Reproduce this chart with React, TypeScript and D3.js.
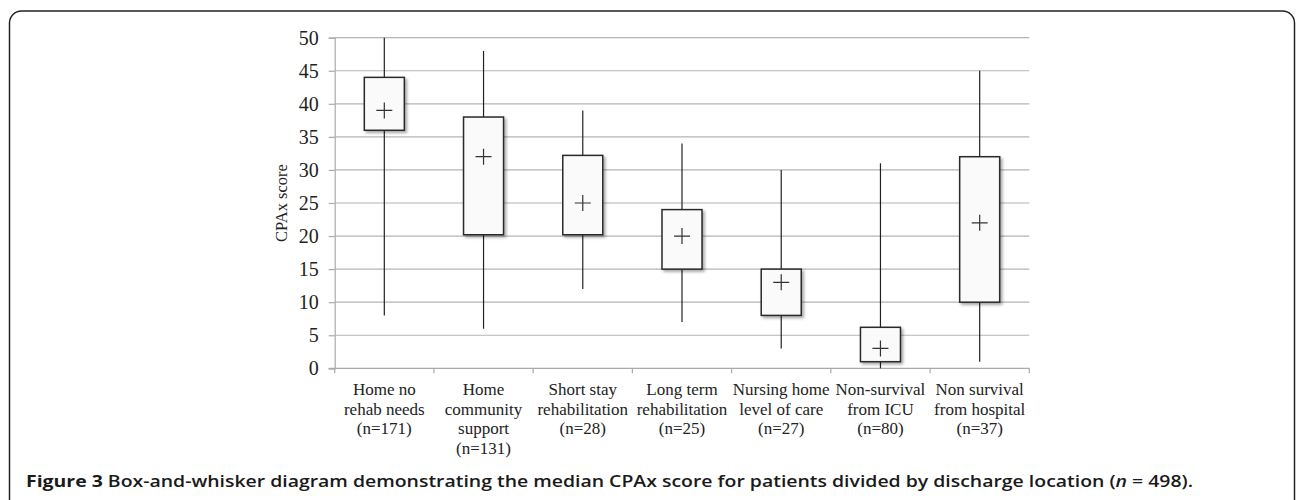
import * as d3 from "d3";
import { useEffect, useRef } from "react";

// discharge location groups, one label line per entry
const categories = [
  ["Home no", "rehab needs", "(n=171)"],
  ["Home", "community", "support", "(n=131)"],
  ["Short stay", "rehabilitation", "(n=28)"],
  ["Long term", "rehabilitation", "(n=25)"],
  ["Nursing home", "level of care", "(n=27)"],
  ["Non-survival", "from ICU", "(n=80)"],
  ["Non survival", "from hospital", "(n=37)"],
];

// CPAx values
const whiskerMin = [8, 6, 12, 7, 3, 0, 1];
const whiskerMax = [50, 48, 39, 34, 30, 31, 45];
const boxLow = [36, 20.2, 20.2, 15, 8, 1, 10];
const boxHigh = [44, 38, 32.2, 24, 15, 6.2, 32];
const medians = [39, 32, 25, 20, 13, 3, 22];

const yTicks = [0, 5, 10, 15, 20, 25, 30, 35, 40, 45, 50];

const W = 1296;
const H = 500;
const serif = "'Liberation Serif', 'Times New Roman', serif";

export default function App() {
  const ref = useRef<SVGSVGElement>(null);

  useEffect(() => {
    const svg = d3.select(ref.current);
    svg.selectAll("*").remove();

    const left = 334.7;
    const right = 1029.3;
    const top = 37.7;
    const bottom = 368.3;

    const x = d3
      .scaleBand<number>()
      .domain(d3.range(categories.length))
      .range([left, right])
      .paddingInner(0)
      .paddingOuter(0);
    const y = d3.scaleLinear().domain([0, 50]).range([bottom, top]);

    const defs = svg.append("defs");
    const f = defs
      .append("filter")
      .attr("id", "shadow")
      .attr("x", "-20%")
      .attr("y", "-20%")
      .attr("width", "150%")
      .attr("height", "150%");
    f.append("feDropShadow")
      .attr("dx", 2)
      .attr("dy", 2)
      .attr("stdDeviation", 1.5)
      .attr("flood-color", "#000")
      .attr("flood-opacity", 0.35);

    // frame round the figure (bottom edge is off the page)
    svg
      .append("rect")
      .attr("x", 9.5)
      .attr("y", 11)
      .attr("width", 1285)
      .attr("height", 520)
      .attr("rx", 12)
      .attr("fill", "none")
      .attr("stroke", "#222")
      .attr("stroke-width", 1.5);

    // gridlines
    svg
      .append("g")
      .selectAll("line")
      .data(yTicks.filter((t) => t > 0))
      .join("line")
      .attr("x1", left)
      .attr("x2", right)
      .attr("y1", (d) => y(d))
      .attr("y2", (d) => y(d))
      .attr("stroke", "#b4b4b4")
      .attr("stroke-width", 1.2);

    // y axis
    const yAxis = svg
      .append("g")
      .attr("transform", `translate(${left},0)`)
      .call(d3.axisLeft(y).tickValues(yTicks).tickSize(6).tickPadding(10));
    yAxis.select(".domain").attr("stroke", "#aaa").attr("stroke-width", 1.2);
    yAxis.selectAll(".tick line").attr("stroke", "#aaa").attr("stroke-width", 1.2);
    yAxis
      .selectAll(".tick text")
      .attr("font-family", serif)
      .attr("font-size", 20)
      .attr("fill", "#222");

    // x axis: ticks at band boundaries
    const bounds = d3.range(categories.length + 1).map((i) => left + i * x.bandwidth());
    svg
      .append("line")
      .attr("x1", left - 6)
      .attr("x2", right)
      .attr("y1", bottom)
      .attr("y2", bottom)
      .attr("stroke", "#aaa")
      .attr("stroke-width", 1.2);
    svg
      .append("g")
      .selectAll("line")
      .data(bounds)
      .join("line")
      .attr("x1", (d) => d)
      .attr("x2", (d) => d)
      .attr("y1", bottom)
      .attr("y2", bottom + 5)
      .attr("stroke", "#aaa")
      .attr("stroke-width", 1.2);

    // category labels
    const lbl = svg
      .append("g")
      .selectAll("text")
      .data(categories)
      .join("text")
      .attr("text-anchor", "middle")
      .attr("font-family", serif)
      .attr("font-size", 17)
      .attr("fill", "#222");
    lbl
      .selectAll("tspan")
      .data((d, i) => d.map((s) => ({ s, i })))
      .join("tspan")
      .attr("x", (d) => x(d.i)! + x.bandwidth() / 2)
      .attr("y", (_, j) => 395 + j * 19.7)
      .text((d) => d.s);

    // y title
    svg
      .append("text")
      .attr("transform", `translate(287,203) rotate(-90)`)
      .attr("text-anchor", "middle")
      .attr("font-family", serif)
      .attr("font-size", 16.5)
      .attr("fill", "#222")
      .text("CPAx score");

    const boxW = 40;
    const g = svg
      .append("g")
      .selectAll("g")
      .data(categories.map((_, i) => i))
      .join("g")
      .attr("transform", (i) => `translate(${x(i)! + x.bandwidth() / 2},0)`);

    g.append("line")
      .attr("y1", (i) => y(whiskerMin[i]))
      .attr("y2", (i) => y(whiskerMax[i]))
      .attr("stroke", "#222")
      .attr("stroke-width", 1.2);

    g.append("rect")
      .attr("x", -boxW / 2)
      .attr("width", boxW)
      .attr("y", (i) => y(boxHigh[i]))
      .attr("height", (i) => y(boxLow[i]) - y(boxHigh[i]))
      .attr("fill", "#fafafa")
      .attr("stroke", "#2a2a2a")
      .attr("stroke-width", 1.5)
      .attr("filter", "url(#shadow)");

    g.append("path")
      .attr("d", (i) => {
        const m = y(medians[i]);
        return `M-8,${m}H8M0,${m - 8}V${m + 8}`;
      })
      .attr("stroke", "#333")
      .attr("stroke-width", 1.2)
      .attr("fill", "none");

    // caption
    const cap = svg
      .append("text")
      .attr("x", 26)
      .attr("y", 487)
      .attr("font-family", "'Open Sans', 'Noto Sans', sans-serif")
      .attr("font-size", 16)
      .attr("font-weight", 700)
      .attr("fill", "#1a1a1a")
      .attr("textLength", 1167)
      .attr("lengthAdjust", "spacingAndGlyphs");
    cap.append("tspan").text("Figure 3");
    cap
      .append("tspan")
      .attr("font-weight", 600)
      .text(" Box-and-whisker diagram demonstrating the median CPAx score for patients divided by discharge location (");
    cap.append("tspan").attr("font-style", "italic").attr("font-weight", 600).text("n");
    cap.append("tspan").attr("font-weight", 600).text(" = 498).");
  }, []);

  return (
    <svg
      ref={ref}
      width={W}
      height={H}
      viewBox={`0 0 ${W} ${H}`}
      style={{ position: "absolute", left: 0, top: 0, background: "#fff" }}
    />
  );
}
